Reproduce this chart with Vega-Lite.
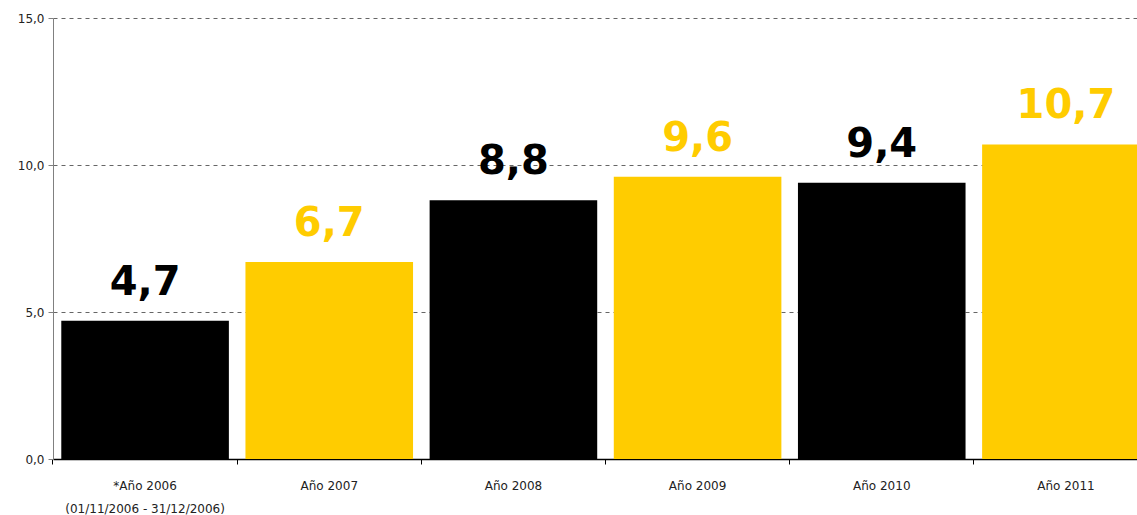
{
  "$schema": "https://vega.github.io/schema/vega-lite/v6.json",
  "autosize": {"type": "none"},
  "padding": {"left": 53, "top": 18, "right": 0, "bottom": 56},
  "width": 1105,
  "height": 441,
  "background": "white",
  "config": {
    "view": {"stroke": null},
    "locale": {"number": {"decimal": ",", "thousands": ".", "grouping": [3], "currency": ["", " €"]}},
    "font": "DejaVu Sans"
  },
  "data": {
    "values": [
      {"periodo": "*Año 2006", "valor": 4.7},
      {"periodo": "Año 2007", "valor": 6.7},
      {"periodo": "Año 2008", "valor": 8.8},
      {"periodo": "Año 2009", "valor": 9.6},
      {"periodo": "Año 2010", "valor": 9.4},
      {"periodo": "Año 2011", "valor": 10.7}
    ]
  },
  "encoding": {
    "x": {"field": "periodo", "type": "nominal", "sort": null,
      "scale": {"paddingInner": 0.09, "paddingOuter": 0.045}},
    "y": {"field": "valor", "type": "quantitative",
      "scale": {"domain": [0, 15], "nice": false, "zero": true}},
    "color": {"field": "periodo", "type": "nominal", "legend": null,
      "scale": {"domain": ["*Año 2006", "Año 2007", "Año 2008", "Año 2009", "Año 2010", "Año 2011"],
        "range": ["#000000", "#FFCC00", "#000000", "#FFCC00", "#000000", "#FFCC00"]}}
  },
  "layer": [
    {
      "mark": {"type": "bar", "opacity": 1},
      "encoding": {
        "x": {"field": "periodo", "type": "nominal", "sort": null,
          "axis": {"orient": "bottom", "title": null, "labels": false, "bandPosition": -0.05, "ticks": true, "tickSize": 5,
            "tickColor": "#000000", "domainColor": "#000000", "domainWidth": 1.5, "grid": false}},
        "y": {"field": "valor", "type": "quantitative",
          "axis": {"title": null, "values": [0, 5, 10, 15], "format": ".1f",
            "grid": true, "gridDash": [4, 4], "gridColor": "#666666", "gridWidth": 1,
            "domainColor": "#808080", "tickColor": "#808080", "tickSize": 5,
            "labelFontSize": 12, "labelColor": "#222222", "labelPadding": 4}}
      }
    },
    {
      "mark": {"type": "text", "font": "DejaVu Sans", "fontWeight": "bold", "fontSize": 40,
        "baseline": "alphabetic", "dy": -26},
      "encoding": {
        "x": {"field": "periodo", "type": "nominal", "sort": null,
          "axis": {"orient": "bottom", "title": null, "ticks": false, "domain": false, "labelAngle": 0,
            "labelFontSize": 12, "labelColor": "#222222", "labelPadding": 26, "labelLineHeight": 23,
            "labelBaseline": "middle",
            "labelExpr": "datum.value == '*Año 2006' ? ['*Año 2006', '(01/11/2006 - 31/12/2006)'] : datum.value"}},
        "text": {"field": "valor", "type": "quantitative", "format": ".1f"}
      }
    }
  ],
  "resolve": {"axis": {"x": "independent"}}
}
